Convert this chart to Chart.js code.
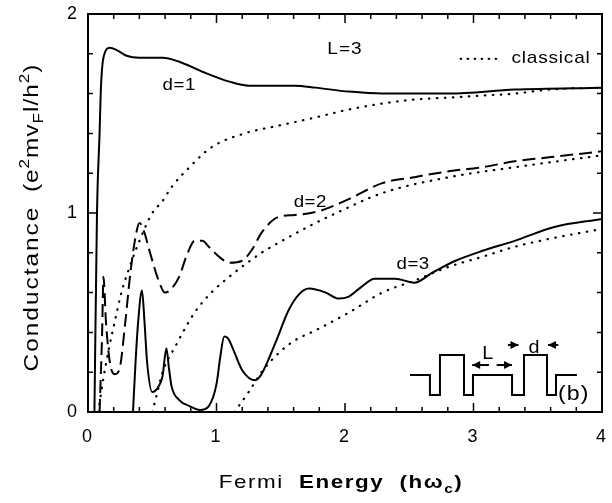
<!DOCTYPE html>
<html><head><meta charset="utf-8">
<script src="https://cdn.jsdelivr.net/npm/chart.js@4"></script>
<style>html,body{margin:0;padding:0;background:#fff}canvas{display:block}</style>
</head><body>
<canvas id="c" width="612" height="503"></canvas>
<script>
// ---- data ----
const d1X = [0.05,0.07,0.09,0.10,0.12,0.17,0.22,0.30,0.40,0.58,0.71,0.89,1.10,1.25,1.61,1.77,2.03,2.29,2.54,2.81,3.32,4.0];
const d1Y = [0,1.0,1.4,1.62,1.78,1.83,1.82,1.79,1.78,1.78,1.76,1.71,1.66,1.64,1.64,1.63,1.61,1.60,1.60,1.60,1.62,1.63];

const d2X = [0.09,0.11,0.12,0.14,0.17,0.21,0.25,0.29,0.33,0.37,0.40,0.44,0.47,0.55,0.60,0.65,0.71,0.77,0.83,0.89,0.94,1.02,1.10,1.20,1.28,1.35,1.48,1.61,1.80,2.03,2.29,2.54,2.81,3.07,3.32,3.59,4.0];
const d2Y = [0,0.4,0.68,0.45,0.25,0.19,0.23,0.45,0.70,0.88,0.95,0.90,0.83,0.66,0.60,0.62,0.68,0.79,0.86,0.86,0.83,0.78,0.75,0.76,0.82,0.90,0.98,0.99,1.01,1.07,1.15,1.18,1.21,1.23,1.26,1.28,1.31];

const d3X = [0.35,0.37,0.39,0.42,0.44,0.46,0.50,0.55,0.58,0.61,0.63,0.65,0.71,0.79,0.87,0.94,1.00,1.03,1.06,1.09,1.12,1.20,1.30,1.35,1.46,1.56,1.64,1.72,1.85,1.95,2.03,2.13,2.23,2.39,2.54,2.68,2.86,3.07,3.32,3.63,4.0];
const d3Y = [0,0.25,0.45,0.61,0.45,0.25,0.10,0.13,0.18,0.32,0.22,0.13,0.06,0.03,0.01,0.03,0.14,0.28,0.38,0.37,0.33,0.21,0.16,0.19,0.35,0.51,0.59,0.62,0.60,0.57,0.58,0.63,0.67,0.67,0.65,0.70,0.76,0.81,0.86,0.93,0.97];

const c1X = [0.08,0.12,0.16,0.21,0.26,0.33,0.40,0.50,0.58,0.65,0.79,0.96,1.22,1.49,1.77,2.03,2.29,2.54,2.81,3.07,3.32,3.59,4.0];
const c1Y = [0,0.17,0.31,0.46,0.60,0.74,0.86,1.0,1.06,1.13,1.23,1.33,1.40,1.44,1.48,1.52,1.55,1.57,1.58,1.59,1.60,1.62,1.63];

const c2X = [0.50,0.54,0.58,0.68,0.83,0.96,1.10,1.35,1.51,1.74,1.90,2.29,2.81,3.32,4.0];
const c2Y = [0,0.10,0.20,0.33,0.50,0.60,0.68,0.80,0.86,0.94,0.99,1.10,1.18,1.23,1.29];

const c3X = [1.14,1.25,1.35,1.49,1.61,1.77,2.03,2.29,2.54,2.81,3.07,3.32,3.59,4.0];
const c3Y = [0,0.10,0.20,0.30,0.36,0.41,0.50,0.60,0.66,0.73,0.78,0.83,0.87,0.92];

const xTickValues = [0,1,2,3,4];
const xTickLabels = ['0','1','2','3','4'];
const yTickValues = [0,1,2];
const yTickLabels = ['0','1','2'];

// inset schematic (data units)
const insetX = [2.506,2.661,2.661,2.739,2.739,2.926,2.926,2.996,2.996,3.300,3.300,3.393,3.393,3.572,3.572,3.642,3.642,3.805];
const insetY = [0.186,0.186,0.085,0.085,0.286,0.286,0.085,0.085,0.186,0.186,0.085,0.085,0.286,0.286,0.085,0.085,0.186,0.186];

const pts = (xs, ys) => xs.map((x,i)=>({x, y: ys[i]}));
const FONT = '"Liberation Sans", Arial, sans-serif';

const solid = {borderColor:'#000', borderWidth:2, pointRadius:0, cubicInterpolationMode:'monotone', fill:false};
const dotted = {borderColor:'#000', borderWidth:2.2, borderDash:[0.5,7.5], borderCapStyle:'round', pointRadius:0, cubicInterpolationMode:'monotone', fill:false};

// draw stretched, spaced text char by char; parts: {t, f, dy, ls}
function rich(ctx, parts, x, y, rot, align, sx) {
  sx = sx || 1;
  ctx.save();
  ctx.translate(x, y);
  if (rot) ctx.rotate(rot);
  ctx.textBaseline = 'alphabetic';
  ctx.textAlign = 'left';
  let w = 0;
  parts.forEach(p => { ctx.font = p.f; for (const ch of p.t) w += ctx.measureText(ch).width * sx + (p.ls||0); });
  let cx = align === 'left' ? 0 : -w/2;
  parts.forEach(p => {
    ctx.font = p.f;
    for (const ch of p.t) {
      ctx.save(); ctx.translate(cx, p.dy||0); ctx.scale(sx, 1); ctx.fillText(ch, 0, 0); ctx.restore();
      cx += ctx.measureText(ch).width * sx + (p.ls||0);
    }
  });
  ctx.restore();
}

const deco = {
  id: 'deco',
  afterDraw(chart) {
    const ctx = chart.ctx, xs = chart.scales.x, ys = chart.scales.y, a = chart.chartArea;
    const X = v => xs.getPixelForValue(v), Y = v => ys.getPixelForValue(v);
    ctx.save();
    ctx.strokeStyle = '#000'; ctx.fillStyle = '#000'; ctx.lineWidth = 2;
    ctx.strokeRect(a.left, a.top, a.right - a.left, a.bottom - a.top);
    ctx.lineWidth = 1.5;
    ctx.beginPath();
    for (let i = 0; i <= 20; i++) {
      const px = X(i/5), L = (i%5===0) ? 9 : 5;
      ctx.moveTo(px, a.bottom); ctx.lineTo(px, a.bottom - L);
      ctx.moveTo(px, a.top); ctx.lineTo(px, a.top + L);
    }
    for (let i = 0; i <= 10; i++) {
      const py = Y(i/5), L = (i%5===0) ? 9 : 5;
      ctx.moveTo(a.left, py); ctx.lineTo(a.left + L, py);
      ctx.moveTo(a.right, py); ctx.lineTo(a.right - L, py);
    }
    ctx.stroke();

    // tick labels
    ctx.font = '18px ' + FONT;
    ctx.textAlign = 'center'; ctx.textBaseline = 'middle';
    xTickValues.forEach((v,i) => ctx.fillText(xTickLabels[i], X(v) - 1, a.bottom + 25));
    ctx.textAlign = 'right';
    yTickValues.forEach((v,i) => ctx.fillText(yTickLabels[i], a.left - 11, Y(v)));

    // inset schematic
    ctx.lineWidth = 2;
    ctx.beginPath();
    insetX.forEach((v,i)=>{ i ? ctx.lineTo(X(v), Y(insetY[i])) : ctx.moveTo(X(v), Y(insetY[i])); });
    ctx.stroke();
    function arrow(x0,x1,y){ // head at x1
      const dir = Math.sign(x1-x0);
      ctx.beginPath(); ctx.moveTo(x0,y); ctx.lineTo(x1,y); ctx.stroke();
      ctx.beginPath(); ctx.moveTo(x1,y); ctx.lineTo(x1-dir*8,y-4); ctx.lineTo(x1-dir*8,y+4); ctx.closePath(); ctx.fill();
    }
    const yL = Y(0.236), yd = Y(0.337);
    arrow(X(3.12), X(2.99), yL); arrow(X(3.18), X(3.30), yL);
    arrow(X(3.268), X(3.35), yd); arrow(X(3.66), X(3.58), yd);

    const lf = '17px ' + FONT;
    rich(ctx, [{t:'L', f:'18px ' + FONT}], X(3.11), Y(0.295) + 6, 0, 'center', 1.1);
    rich(ctx, [{t:'d', f:'18px ' + FONT}], X(3.47), Y(0.325) + 6, 0, 'center', 1.1);
    rich(ctx, [{t:'(b)', f:'21px ' + FONT, ls:1}], X(3.78), Y(0.095) + 7, 0, 'center', 1.1);

    // labels in plot
    rich(ctx, [{t:'L=3', f:lf, ls:1}], X(2.0), Y(1.83) + 6, 0, 'center', 1.12);
    rich(ctx, [{t:'d=1', f:lf, ls:0.5}], X(0.71), Y(1.65) + 6, 0, 'center', 1.1);
    rich(ctx, [{t:'d=2', f:lf, ls:0.5}], X(1.73), Y(1.06) + 6, 0, 'center', 1.1);
    rich(ctx, [{t:'d=3', f:lf, ls:0.5}], X(2.53), Y(0.75) + 6, 0, 'center', 1.1);
    rich(ctx, [{t:'classical', f:lf, ls:0.8}], X(3.295), Y(1.785) + 6, 0, 'left', 1.12);
    ctx.setLineDash([0.5, 6.5]); ctx.lineCap = 'round'; ctx.lineWidth = 2.2;
    ctx.beginPath(); ctx.moveTo(X(2.9), Y(1.775)); ctx.lineTo(X(3.2), Y(1.775)); ctx.stroke();
    ctx.setLineDash([]);

    // axis titles
    const big = '19px ' + FONT, bb = 'bold 19px ' + FONT, bs = 'bold 13px ' + FONT;
    rich(ctx, [
      {t:'Fermi  ', f:big, ls:1.5}, {t:'Energy  (h\u03C9', f:bb, ls:1.5}, {t:'c', f:bs, dy:5, ls:1.5}, {t:')', f:bb, ls:1.5}
    ], 341, 488, 0, 'center', 1.18);
    const yb = '20px ' + FONT, ys2 = '14px ' + FONT;
    rich(ctx, [
      {t:'Conductance', f:yb, ls:2}, {t:'  ', f:yb, ls:0},
      {t:'(e', f:yb, ls:1}, {t:'2', f:ys2, dy:-9, ls:1}, {t:'mv', f:yb, ls:1}, {t:'F', f:ys2, dy:5, ls:1},
      {t:'l/h', f:yb, ls:1}, {t:'2', f:ys2, dy:-9, ls:1}, {t:')', f:yb, ls:0}
    ], 38, 218, -Math.PI/2, 'center', 1.22);
    ctx.restore();
  }
};

new Chart(document.getElementById('c'), {
  type: 'line',
  data: {
    datasets: [
      Object.assign({label:'c1', data: pts(c1X,c1Y)}, dotted),
      Object.assign({label:'c2', data: pts(c2X,c2Y)}, dotted),
      Object.assign({label:'c3', data: pts(c3X,c3Y)}, dotted),
      Object.assign({label:'d=1', data: pts(d1X,d1Y)}, solid),
      Object.assign({label:'d=2', data: pts(d2X,d2Y)}, solid, {borderDash:[13,6]}),
      Object.assign({label:'d=3', data: pts(d3X,d3Y)}, solid)
    ]
  },
  options: {
    responsive: false, animation: false, devicePixelRatio: 1,
    layout: {padding: {top: 14, right: 10, left: 0, bottom: 0}},
    plugins: {legend: {display: false}, tooltip: {enabled: false}},
    scales: {
      x: {type:'linear', min:0, max:4,
          grid:{display:false, drawTicks:false}, border:{display:false},
          ticks:{display:false, stepSize:1},
          afterFit:(s)=>{ s.height = 91; }},
      y: {type:'linear', min:0, max:2,
          grid:{display:false, drawTicks:false}, border:{display:false},
          ticks:{display:false, stepSize:1},
          afterFit:(s)=>{ s.width = 88; }}
    }
  },
  plugins: [deco]
});
</script>
</body></html>
